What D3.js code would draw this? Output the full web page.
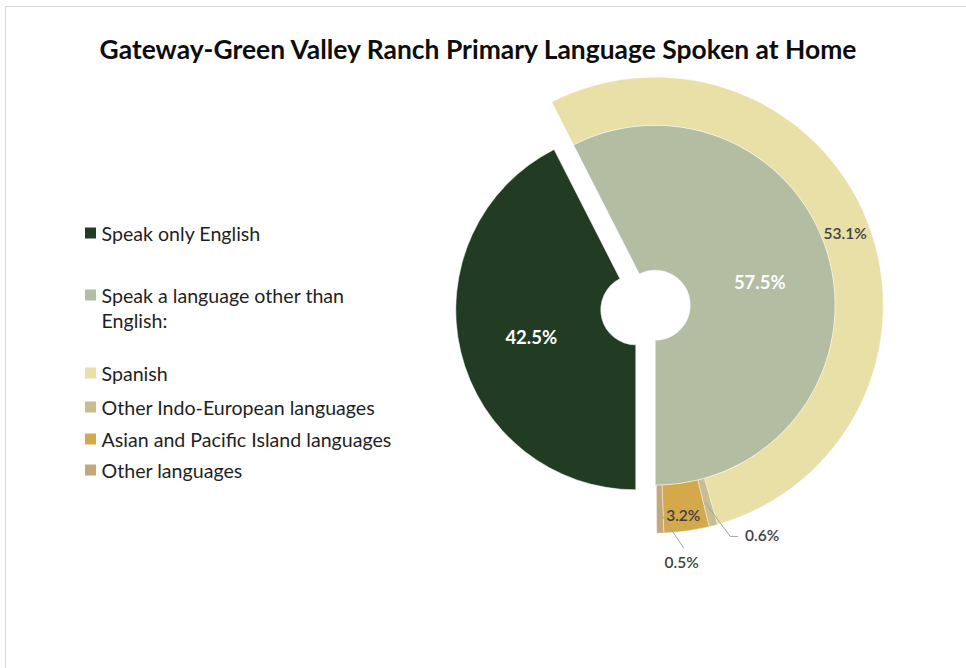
<!DOCTYPE html>
<html>
<head>
<meta charset="utf-8">
<script src="https://cdn.jsdelivr.net/npm/d3@7"></script>
<style>
  html, body { margin: 0; padding: 0; background: #ffffff; }
  svg { display: block; }
</style>
</head>
<body>
<svg id="chart" width="966" height="668"></svg>
<script>
// Primary language spoken at home, Gateway-Green Valley Ranch (percent of population 5+)
const titleText = "Gateway-Green Valley Ranch Primary Language Spoken at Home";

// Inner pie: English only vs. other language
const innerLabels = ["Speak only English", "Speak a language other than English:"];
const innerValues = [42.5, 57.5];
const innerColors = ["#213c22", "#b2bda1"];

// Outer ring: breakdown of the non-English share
const outerLabels = ["Spanish", "Other Indo-European languages", "Asian and Pacific Island languages", "Other languages"];
const outerValues = [53.1, 0.6, 3.2, 0.5];
const outerColors = ["#e8e0a7", "#c7bd8f", "#d3a94c", "#c4a87a"];

// Legend lines (the second inner label wraps onto two lines)
const legendLines = [
  { lines: ["Speak only English"], color: innerColors[0] },
  { lines: ["Speak a language other than", "English:"], color: innerColors[1] },
  { lines: [outerLabels[0]], color: outerColors[0] },
  { lines: [outerLabels[1]], color: outerColors[1] },
  { lines: [outerLabels[2]], color: outerColors[2] },
  { lines: [outerLabels[3]], color: outerColors[3] }
];

const FONT = "Lato, 'Open Sans', 'Noto Sans', sans-serif";
const svg = d3.select("#chart");

// chart area frame
svg.append("rect")
  .attr("x", 5.5).attr("y", 6.5)
  .attr("width", 1100).attr("height", 800)
  .attr("fill", "#ffffff")
  .attr("stroke", "#d9d9d9").attr("stroke-width", 1);

// helper: size a text element so that it spans a given width
function fitWidth(sel, target) {
  const node = sel.node();
  const base = parseFloat(sel.attr("font-size"));
  const w = node.getComputedTextLength();
  if (w > 0) sel.attr("font-size", (base * target / w).toFixed(2));
  return sel;
}

// title
const title = svg.append("text")
  .attr("x", 478).attr("y", 49)
  .attr("text-anchor", "middle")
  .attr("dominant-baseline", "central")
  .attr("font-family", FONT)
  .attr("font-weight", "bold")
  .attr("font-size", 22)
  .attr("fill", "#0d0d0d")
  .text(titleText);
fitWidth(title, 757);

// ---------- pie + ring ----------
const center = { x: 645.5, y: 307.5 };
const explode = 10;
const rHole = 35, rInner = 180, rOuter = 228;
const TAU = 2 * Math.PI;

const startA = Math.PI; // first slice begins at the bottom
const total = d3.sum(innerValues);

const innerPie = d3.pie().sort(null).value(d => d)
  .startAngle(startA).endAngle(startA + TAU);
const innerArcs = innerPie(innerValues);

const arcInner = d3.arc().innerRadius(rHole).outerRadius(rInner);
const arcOuter = d3.arc().innerRadius(rInner).outerRadius(rOuter);

function offsetOf(a) {
  const mid = (a.startAngle + a.endAngle) / 2;
  return [explode * Math.sin(mid), -explode * Math.cos(mid)];
}

const pieG = svg.append("g").attr("transform", `translate(${center.x},${center.y})`);

innerArcs.forEach((a, i) => {
  const [ox, oy] = offsetOf(a);
  const g = pieG.append("g").attr("transform", `translate(${ox},${oy})`);
  g.append("path")
    .attr("d", arcInner(a))
    .attr("fill", innerColors[i])
    .attr("stroke", "#ffffff").attr("stroke-width", 0.5);
});

// outer ring sits with the non-English slice
const otherArc = innerArcs[1];
const [rox, roy] = offsetOf(otherArc);
const ringG = pieG.append("g").attr("transform", `translate(${rox},${roy})`);

const outerPie = d3.pie().sort(null).value(d => d)
  .startAngle(otherArc.startAngle)
  .endAngle(otherArc.startAngle + TAU * d3.sum(outerValues) / total);
const outerArcs = outerPie(outerValues);

ringG.selectAll("path.ring")
  .data(outerArcs)
  .join("path")
  .attr("class", "ring")
  .attr("d", arcOuter)
  .attr("fill", (d, i) => outerColors[i])
  .attr("stroke", "#ffffff").attr("stroke-width", 0.4);

// ---------- data labels ----------
const fmt = v => v.toFixed(1) + "%";

innerArcs.forEach((a, i) => {
  const [ox, oy] = offsetOf(a);
  const [cx, cy] = arcInner.centroid(a);
  pieG.append("text")
    .attr("x", cx + ox).attr("y", cy + oy + 2)
    .attr("text-anchor", "middle")
    .attr("dominant-baseline", "central")
    .attr("font-family", FONT).attr("font-weight", "bold")
    .attr("font-size", 18.5)
    .attr("fill", "#ffffff")
    .text(fmt(innerValues[i]));
});

// label placement for each ring slice: offset from slice centroid, optional leader
const ringLabelPlacement = [
  { dx: 0, dy: 2, leader: null },
  { dx: 55, dy: 33, leader: "elbow" },
  { dx: 0, dy: 8, leader: null },
  { dx: 22, dy: 53, leader: "up" }
];

outerArcs.forEach((a, i) => {
  const [cx, cy] = arcOuter.centroid(a);
  const p = ringLabelPlacement[i];
  const lx = cx + p.dx, ly = cy + p.dy;
  if (p.leader === "elbow") {
    ringG.append("polyline")
      .attr("points", [[cx - 2, cy], [lx - 32, ly + 1], [lx - 24, ly + 1]].map(q => q.join(",")).join(" "))
      .attr("fill", "none").attr("stroke", "#a6a6a6").attr("stroke-width", 1);
  } else if (p.leader === "up") {
    ringG.append("line")
      .attr("x1", cx - 2).attr("y1", cy)
      .attr("x2", lx + 2).attr("y2", ly - 14)
      .attr("stroke", "#a6a6a6").attr("stroke-width", 1);
  }
  ringG.append("text")
    .attr("x", lx).attr("y", ly)
    .attr("text-anchor", "middle")
    .attr("dominant-baseline", "central")
    .attr("font-family", FONT)
    .attr("font-weight", 600)
    .attr("font-size", 15.5)
    .attr("fill", "#3f3f3f")
    .text(fmt(outerValues[i]));
});

// ---------- legend ----------
const legendX = 85, textX = 101.5;
const rowY = [233, 295, 373, 407, 439, 470];
const lineGap = 25;

const legend = svg.append("g");
const legendTexts = [];
legendLines.forEach((item, i) => {
  legend.append("rect")
    .attr("x", legendX).attr("y", rowY[i] - 5.5)
    .attr("width", 11).attr("height", 11)
    .attr("fill", item.color);
  item.lines.forEach((ln, j) => {
    const t = legend.append("text")
      .attr("x", textX).attr("y", rowY[i] + j * lineGap)
      .attr("dominant-baseline", "central")
      .attr("font-family", FONT)
      .attr("font-size", 17)
      .attr("fill", "#1f1f1f")
      .text(ln);
    legendTexts.push(t);
  });
});
// common legend size, set from the widest entry
const widest = legendTexts.find(t => t.text() === outerLabels[2]);
fitWidth(widest, 290);
const legendSize = widest.attr("font-size");
legendTexts.forEach(t => t.attr("font-size", legendSize));
</script>
</body>
</html>
